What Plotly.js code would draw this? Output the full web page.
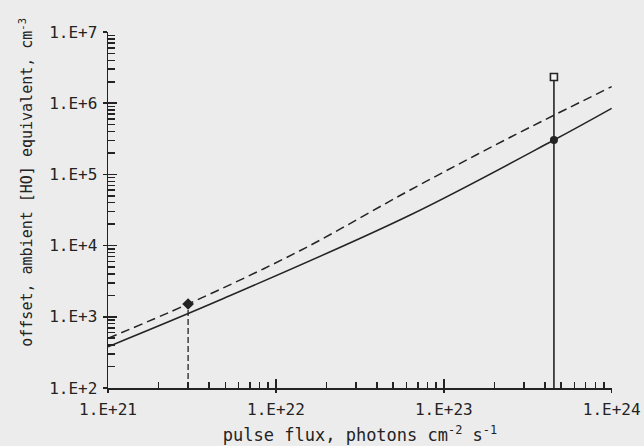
<!DOCTYPE html>
<html>
<head>
<meta charset="utf-8">
<script src="https://cdn.plot.ly/plotly-3.0.1.min.js"></script>
<style>
  html, body { margin: 0; padding: 0; background: #ececec; }
  #plot { width: 644px; height: 446px; }
</style>
</head>
<body>
<div id="plot"></div>
<script>
// Pulse flux (photons cm^-2 s^-1) at which each curve was sampled
const fluxDashed = [1e21, 3.0e21, 1.39e22, 6.31e22, 2.49e23, 1e24];
const hoDashed   = [499, 1514, 8470, 60400, 3.32e5, 1.71e6];

const fluxSolid = [1e21, 4.64e21, 6.31e22, 4.53e23, 1e24];
const hoSolid   = [380, 1720, 26900, 3.04e5, 8.47e5];

// Operating points
const lowFlux = 3.0e21;      // dashed-curve operating point
const lowHO = 1514;
const highFlux = 4.53e23;    // solid-curve operating point
const highHO = 3.04e5;
const highHOTop = 2.33e6;    // upper end of the vertical bar (open square)
const axisFloor = 100;

// Axis ticks
const xTickVals = [1e21, 1e22, 1e23, 1e24];
const xTickText = ['1.E+21', '1.E+22', '1.E+23', '1.E+24'];
const yTickVals = [1e2, 1e3, 1e4, 1e5, 1e6, 1e7];
const yTickText = ['1.E+2', '1.E+3', '1.E+4', '1.E+5', '1.E+6', '1.E+7'];

// decade ticks plus 2..9 in every decade; only the decades carry a label
function allTicks(decades, labels) {
  const vals = [], text = [];
  decades.forEach((d, i) => {
    vals.push(d); text.push(labels[i]);
    if (i < decades.length - 1) {
      for (let m = 2; m <= 9; m++) { vals.push(m * d); text.push(''); }
    }
  });
  return { vals, text };
}
const xTicks = allTicks(xTickVals, xTickText);
const yTicks = allTicks(yTickVals, yTickText);

const ink = '#232323';
const mono = 'DejaVu Sans Mono, Liberation Mono, monospace';

const traces = [
  { x: fluxSolid, y: hoSolid, mode: 'lines', line: { color: ink, width: 1.5, shape: 'spline', smoothing: 1 }, hoverinfo: 'skip' },
  { x: fluxDashed, y: hoDashed, mode: 'lines', line: { color: ink, width: 1.5, dash: '9px,5px', shape: 'spline', smoothing: 1 }, hoverinfo: 'skip' },
  { x: [lowFlux, lowFlux], y: [axisFloor, lowHO], mode: 'lines', line: { color: ink, width: 1.3, dash: '6px,3px' }, hoverinfo: 'skip' },
  { x: [highFlux, highFlux], y: [axisFloor, highHOTop], mode: 'lines', line: { color: ink, width: 1.6 }, hoverinfo: 'skip' },
  { x: [lowFlux], y: [lowHO], mode: 'markers', marker: { symbol: 'diamond', size: 9, color: ink }, hoverinfo: 'skip' },
  { x: [highFlux], y: [highHO], mode: 'markers', marker: { symbol: 'circle', size: 8, color: ink }, hoverinfo: 'skip' },
  { x: [highFlux], y: [highHOTop], mode: 'markers', marker: { symbol: 'square', size: 7, color: '#f4f4f4', line: { color: ink, width: 1.6 } }, hoverinfo: 'skip' },
  // empty traces so the decade-tick axes get their subplots
  { x: [], y: [], xaxis: 'x2', yaxis: 'y', hoverinfo: 'skip' },
  { x: [], y: [], xaxis: 'x3', yaxis: 'y', hoverinfo: 'skip' },
  { x: [], y: [], xaxis: 'x', yaxis: 'y2', hoverinfo: 'skip' },
  { x: [], y: [], xaxis: 'x', yaxis: 'y3', hoverinfo: 'skip' }
];

const xRange = [21, 24.002];
const yRange = [2, 7];

function tickAxis(range, overlay, anchor, side, vals, dir, len) {
  return {
    type: 'log', range: range, overlaying: overlay, anchor: anchor, side: side,
    showline: false, showgrid: false, zeroline: false, showticklabels: false,
    ticks: dir, ticklen: len, tickwidth: 1.5, tickcolor: ink,
    tickmode: 'array', tickvals: vals
  };
}

const layout = {
  width: 644,
  height: 446,
  margin: { l: 108, r: 32, t: 32, b: 58 },
  paper_bgcolor: '#ececec',
  plot_bgcolor: 'rgba(0,0,0,0)',
  showlegend: false,
  xaxis: {
    type: 'log', range: xRange,
    showline: true, linecolor: ink, linewidth: 1.5,
    showgrid: false, zeroline: false,
    ticks: 'inside', ticklen: 6, tickwidth: 1.5, tickcolor: ink,
    tickmode: 'array', tickvals: xTicks.vals, ticktext: xTicks.text,
    ticklabelstandoff: 6,
    tickfont: { family: mono, size: 16, color: ink },
    title: { text: 'pulse flux, photons cm<sup>-2</sup> s<sup>-1</sup>', font: { family: mono, size: 17, color: ink }, standoff: 11 }
  },
  // longer decade ticks: inward part and the short outward part
  xaxis2: tickAxis(xRange, 'x', 'y', 'bottom', xTickVals, 'inside', 9),
  xaxis3: tickAxis(xRange, 'x', 'y', 'bottom', xTickVals, 'outside', 4),
  yaxis: {
    type: 'log', range: yRange,
    showline: true, linecolor: ink, linewidth: 1.5,
    showgrid: false, zeroline: false,
    ticks: 'inside', ticklen: 7, tickwidth: 1.5, tickcolor: ink,
    tickmode: 'array', tickvals: yTicks.vals, ticktext: yTicks.text,
    ticklabelstandoff: 6,
    tickfont: { family: mono, size: 16, color: ink }
  },
  yaxis2: tickAxis(yRange, 'y', 'x', 'left', yTickVals, 'inside', 9),
  yaxis3: tickAxis(yRange, 'y', 'x', 'left', yTickVals, 'outside', 4),
  annotations: [{
    text: 'offset, ambient [HO] equivalent, cm<sup>-3</sup>',
    xref: 'paper', yref: 'paper', x: -0.163, y: 0.579,
    xanchor: 'center', yanchor: 'middle', textangle: -90, showarrow: false,
    font: { family: mono, size: 15, color: ink }
  }]
};

Plotly.newPlot('plot', traces, layout, { staticPlot: true, displayModeBar: false });
</script>
</body>
</html>
